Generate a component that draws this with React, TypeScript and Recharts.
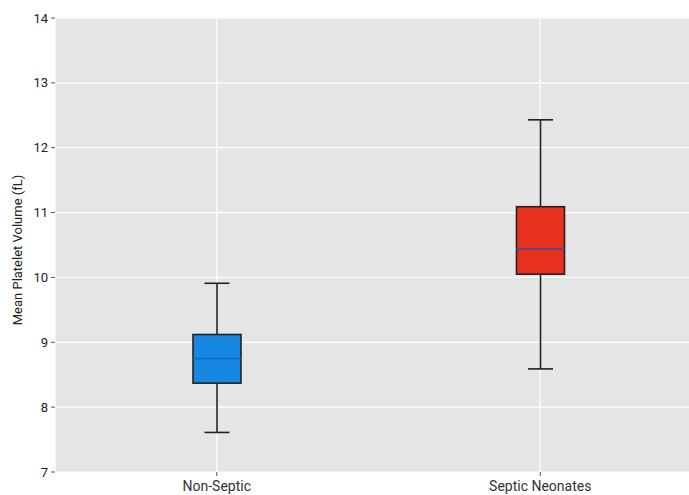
import React from "react";
import { ComposedChart, Bar, XAxis, YAxis, CartesianGrid } from "recharts";

const categories = ["Non-Septic", "Septic Neonates"];
const minValues = [7.61, 8.59];
const q1Values = [8.37, 10.05];
const medianValues = [8.75, 10.44];
const q3Values = [9.12, 11.09];
const maxValues = [9.91, 12.43];
const boxColors = ["#1788e2", "#e8301e"];
const medianColors = ["#1565c0", "#4b4a94"];
const yTicks = [7, 8, 9, 10, 11, 12, 13, 14];

const data = categories.map((name, i) => ({
  name,
  range: [minValues[i], maxValues[i]],
  min: minValues[i],
  q1: q1Values[i],
  median: medianValues[i],
  q3: q3Values[i],
  max: maxValues[i],
  color: boxColors[i],
  medianColor: medianColors[i],
}));

const BoxShape = (props: any) => {
  const { x, y, width, height, payload } = props;
  if (!payload) return null;
  const top = Math.min(y, y + height);
  const bottom = Math.max(y, y + height);
  const { min, max, q1, median, q3, color, medianColor } = payload;
  const scale = (v: number) => bottom - ((v - min) / (max - min)) * (bottom - top);
  const cx = x + width / 2;
  const capW = 25;
  const yq1 = scale(q1);
  const yq3 = scale(q3);
  const ym = scale(median);
  return (
    <g>
      <line x1={cx} x2={cx} y1={top} y2={yq3} stroke="#222" strokeWidth={1.6} />
      <line x1={cx} x2={cx} y1={yq1} y2={bottom} stroke="#222" strokeWidth={1.6} />
      <line x1={cx - capW / 2} x2={cx + capW / 2} y1={top} y2={top} stroke="#222" strokeWidth={1.6} />
      <line x1={cx - capW / 2} x2={cx + capW / 2} y1={bottom} y2={bottom} stroke="#222" strokeWidth={1.6} />
      <rect x={x} y={yq3} width={width} height={yq1 - yq3} fill={color} stroke="#222" strokeWidth={1.6} />
      <line x1={x} x2={x + width} y1={ym} y2={ym} stroke={medianColor} strokeWidth={1.6} />
    </g>
  );
};

export default function App() {
  return (
    <div style={{ position: "fixed", left: 0, top: 0, width: 689, height: 495, overflow: "hidden", background: "#fff" }}>
      <ComposedChart
        width={720}
        height={495}
        data={data}
        margin={{ top: 18, right: 18, bottom: 0, left: 0 }}
        style={{ fontFamily: "Roboto, sans-serif" }}
      >
        <CartesianGrid fill="#e5e5e5" stroke="#ffffff" strokeWidth={1.2} />
        <XAxis
          dataKey="name"
          height={23}
          axisLine={false}
          tickLine={{ stroke: "#555" }}
          tickSize={4}
          tick={{ fill: "#333", fontSize: 14 }}
          tickMargin={5}
        />
        <YAxis
          domain={[7, 14]}
          ticks={yTicks}
          width={55}
          axisLine={false}
          tickLine={{ stroke: "#555" }}
          tickSize={4}
          tickMargin={3}
          tick={{ fill: "#222", fontSize: 13 }}
          label={{
            value: "Mean Platelet Volume (fL)",
            angle: -90,
            position: "center",
            dx: -10,
            dy: 5,
            style: { fill: "#222", fontSize: 13, textAnchor: "middle" },
          }}
        />
        <Bar dataKey="range" barSize={48} shape={<BoxShape />} isAnimationActive={false} />
      </ComposedChart>
    </div>
  );
}
